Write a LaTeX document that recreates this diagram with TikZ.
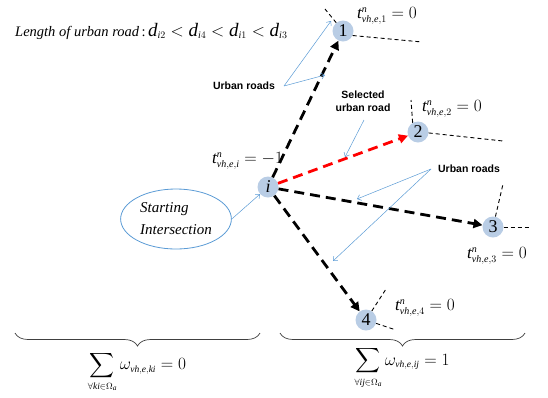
\documentclass[tikz,border=0pt]{standalone}
\usepackage{exscale}
\usepackage{fontspec}
\setmainfont{Liberation Serif}
\setsansfont{Liberation Sans}
\usetikzlibrary{arrows.meta,decorations.pathreplacing,shapes.geometric}
\definecolor{nodefill}{RGB}{185,205,229}
\definecolor{callblue}{RGB}{91,155,213}
\DeclareMathSizes{17}{17}{10}{8}
\DeclareMathSizes{19}{19}{10}{8}
\DeclareMathSizes{16}{16}{9.5}{7.5}
\newcommand{\mi}[1]{\mathit{#1}}
\begin{document}
\begin{tikzpicture}[x=1pt,y=-1pt,
  rnode/.style={circle,fill=nodefill,minimum size=21pt,inner sep=0pt,font=\fontsize{18}{18}\selectfont},
  road/.style={line width=2.8pt,dash pattern=on 10pt off 6pt,-{Triangle[length=9pt,width=9pt]}},
  stub/.style={line width=0.9pt,dash pattern=on 4pt off 3pt},
  callout/.style={draw=callblue,line width=0.5pt,-{Straight Barb[length=3.5pt,width=6pt]}},
  lbl/.style={font=\sffamily\bfseries\fontsize{10.5}{13}\selectfont,align=center,inner sep=0pt},
  tlab/.style={font=\fontsize{17}{19}\selectfont,inner sep=0pt,anchor=west},
  formula/.style={font=\fontsize{16}{18}\selectfont,inner sep=0pt},
  bracestyle/.style={decorate,decoration={brace,mirror,amplitude=13pt,aspect=0.5},draw=black!75,line width=0.7pt}
]
\useasboundingbox (0,0) rectangle (548,397);

% title
\node[anchor=west,inner sep=0pt] (len) at (15,31)
  {{\fontsize{14.5}{17}\selectfont\textit{Length of urban road}\,:}\
   {\fontsize{19}{21}\selectfont$\mi{d}_{\mi{i}2}<\mi{d}_{\mi{i}4}<\mi{d}_{\mi{i}1}<\mi{d}_{\mi{i}3}$}};

% nodes
\node[rnode] (i) at (268,187) {\textit{i}};
\node[rnode] (n1) at (343,31) {1};
\node[rnode] (n2) at (418,132) {2};
\node[rnode] (n3) at (493,227) {3};
\node[rnode] (n4) at (366,320) {4};

% stubs
\coordinate (s1a) at (325,9);
\coordinate (s1b) at (422,42);
\coordinate (s2a) at (411,100);
\coordinate (s2b) at (503,141);
\coordinate (s3a) at (503,184);
\coordinate (s3b) at (530,227);
\coordinate (s4a) at (386,289);
\coordinate (s4b) at (396,330);
\draw[stub] (n1) -- (s1a);
\draw[stub] (n1.-25) -- (s1b);
\draw[stub] (n2.120) -- (s2a);
\draw[stub] (n2.-5) -- (s2b);
\draw[stub] (n3) -- (s3a);
\draw[stub] (n3) -- (s3b);
\draw[stub] (n4) -- (s4a);
\draw[stub] (n4) -- (s4b);

% roads
\draw[road] (i) -- (n1);
\draw[road] (i) -- (n3);
\draw[road] (i) -- (n4);
\draw[road,red] (i) -- (n2);

% time labels
\node[tlab] (t1) at (357,16) {$\mi{t}^{\mi{n}}_{\mi{vh},\mi{e},1}=0$};
\node[tlab] (t2) at (422,109) {$\mi{t}^{\mi{n}}_{\mi{vh},\mi{e},2}=0$};
\node[tlab] (ti) at (212,161) {$\mi{t}^{\mi{n}}_{\mi{vh},\mi{e},\mi{i}}=-1$};
\node[tlab] (t3) at (467,256) {$\mi{t}^{\mi{n}}_{\mi{vh},\mi{e},3}=0$};
\node[tlab] (t4) at (395,308) {$\mi{t}^{\mi{n}}_{\mi{vh},\mi{e},4}=0$};

% callouts
\node[lbl] (ur1) at (244,86) {Urban roads};
\coordinate (u1s) at (284,86);
\coordinate (c1a) at (331,21);
\coordinate (c1b) at (325,75);
\draw[callout] (u1s) -- (c1a);
\draw[callout] (u1s) -- (c1b);

\node[lbl] (sel) at (363,101) {Selected\\urban road};
\coordinate (sels) at (364,120);
\coordinate (c2) at (345,157);
\draw[callout] (sels) -- (c2);

\node[lbl] (ur2) at (469,169) {Urban roads};
\coordinate (u2s) at (431,169);
\coordinate (c3a) at (357,199);
\coordinate (c3b) at (333,261);
\draw[callout] (u2s) -- (c3a);
\draw[callout] (u2s) -- (c3b);

% starting intersection
\node[draw=callblue,ellipse,minimum width=110pt,minimum height=60pt,line width=0.8pt,
      font=\itshape\fontsize{15}{22}\selectfont,align=left] (start) at (176,219)
      {Starting\\Intersection};
\draw[callout] (start.east) -- (i);

% braces
\coordinate (b1l) at (15,333);
\coordinate (b1r) at (260,333);
\coordinate (b2l) at (280,333);
\coordinate (b2r) at (525,333);
\draw[bracestyle] (b1l) -- (b1r);
\draw[bracestyle] (b2l) -- (b2r);

% formulas
\node[formula] (f1) at (137,372) {$\displaystyle\sum_{\forall \mi{ki}\in\Omega_{\mi{a}}}\omega_{\mi{vh},\mi{e},\mi{ki}}=0$};
\node[formula] (f2) at (402,368) {$\displaystyle\sum_{\forall \mi{ij}\in\Omega_{\mi{a}}}\omega_{\mi{vh},\mi{e},\mi{ij}}=1$};
\end{tikzpicture}
\end{document}
